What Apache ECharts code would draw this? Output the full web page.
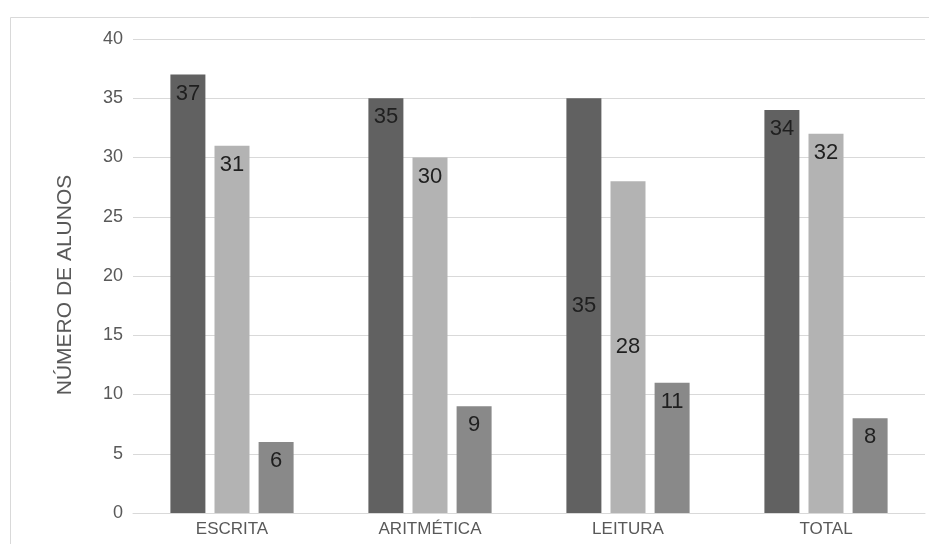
<!DOCTYPE html>
<html>
<head>
<meta charset="utf-8">
<script src="https://cdn.jsdelivr.net/npm/echarts@6/dist/echarts.min.js"></script>
<style>html,body{margin:0;padding:0;background:#fff}#c{width:929px;height:544px}</style>
</head>
<body>
<div id="c"></div>
<script>
const categories = ['ESCRITA', 'ARITMÉTICA', 'LEITURA', 'TOTAL'];
const seriesNames = ['Série 1', 'Série 2', 'Série 3'];
const serie1 = [37, 35, 35, 34];
const serie2 = [31, 30, 28, 32];
const serie3 = [6, 9, 11, 8];
const yTicks = [0, 5, 10, 15, 20, 25, 30, 35, 40];
const axisTitle = 'NÚMERO DE ALUNOS';
// label placement per bar as in the original (LEITURA first two centred)
const labelPos1 = ['insideTop', 'insideTop', 'inside', 'insideTop'];
const labelPos2 = ['insideTop', 'insideTop', 'inside', 'insideTop'];
const labelPos3 = ['insideTop', 'insideTop', 'insideTop', 'insideTop'];

const colors = ['#616161', '#b3b3b3', '#898989'];
const font = '"Liberation Sans", Arial, sans-serif';

function mk(vals, pos) {
  return vals.map((v, i) => ({ value: v, label: { position: pos[i] } }));
}

const chart = echarts.init(document.getElementById('c'), null, { renderer: 'canvas' });
const allSeries = [serie1, serie2, serie3].map((vals, k) => ({
  name: seriesNames[k],
  type: 'bar',
  barWidth: 35,
  barGap: '26%',
  itemStyle: { color: colors[k] },
  label: {
    show: true,
    distance: 8,
    color: '#1f1f1f',
    fontSize: 22,
    fontFamily: font
  },
  data: mk(vals, [labelPos1, labelPos2, labelPos3][k])
}));

chart.setOption({
  animation: false,
  backgroundColor: '#ffffff',
  graphic: [{
    type: 'rect',
    shape: { x: 10.5, y: 17.5, width: 940, height: 560 },
    style: { fill: 'none', stroke: '#d9d9d9', lineWidth: 1 },
    z: -10
  }],
  grid: { left: 133, right: 4, top: 39, bottom: 31 },
  xAxis: {
    type: 'category',
    data: categories,
    axisLine: { show: true, lineStyle: { color: '#d9d9d9', width: 1 } },
    axisTick: { show: false },
    axisLabel: { color: '#595959', fontSize: 17, fontFamily: font, margin: 8 }
  },
  yAxis: {
    type: 'value',
    min: yTicks[0],
    max: yTicks[yTicks.length - 1],
    interval: yTicks[1] - yTicks[0],
    name: axisTitle,
    nameLocation: 'middle',
    nameGap: 57,
    nameTextStyle: { color: '#595959', fontSize: 21, fontFamily: font, padding: [0, 18, 0, 0] },
    axisLine: { show: false },
    axisTick: { show: false },
    splitLine: { lineStyle: { color: '#d9d9d9', width: 1 } },
    axisLabel: { color: '#595959', fontSize: 18, fontFamily: font, margin: 10 }
  },
  series: allSeries
});
</script>
</body>
</html>
